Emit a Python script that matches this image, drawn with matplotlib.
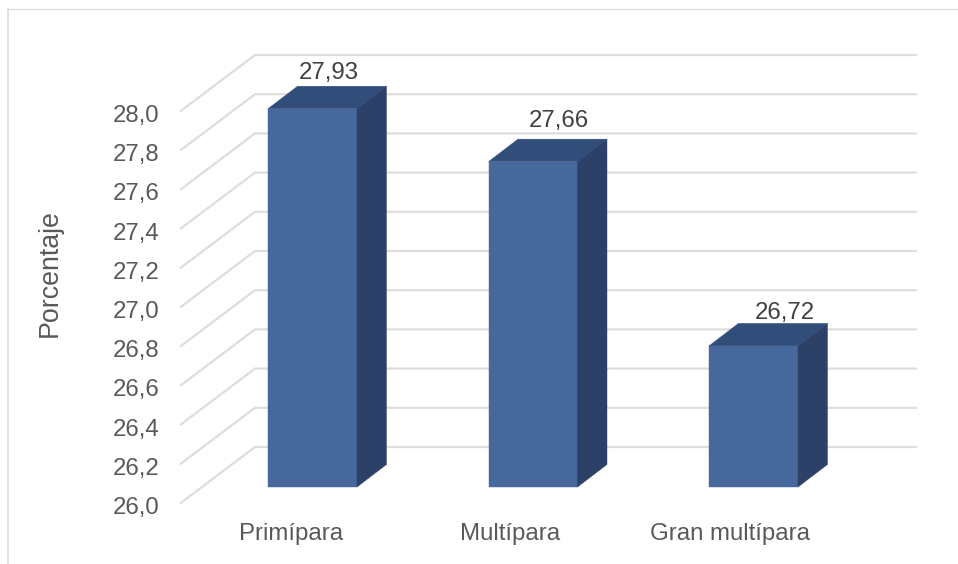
import matplotlib
matplotlib.use("Agg")
import matplotlib.pyplot as plt
from matplotlib.patches import Polygon

plt.rcParams['font.family'] = ['Liberation Sans', 'DejaVu Sans']

categories = ["Primípara", "Multípara", "Gran multípara"]
values = [27.93, 27.66, 26.72]
value_labels = ["27,93", "27,66", "26,72"]
tick_values = [26.0, 26.2, 26.4, 26.6, 26.8, 27.0, 27.2, 27.4, 27.6, 27.8, 28.0]
tick_labels = ["26,0", "26,2", "26,4", "26,6", "26,8", "27,0", "27,2", "27,4", "27,6", "27,8", "28,0"]

W, H = 958, 564
PX_Y = 196.0      # pixels per unit of value
PX_X = 220.5      # pixels per category
X0, Y0 = 312.5, 487.0   # pixel position of category 0, value 26
BAR_W = 89 / PX_X
FLOOR = 26.0
FONT = 17.3

fig = plt.figure(figsize=(W / 100, H / 100), dpi=100, facecolor="white")
ax = fig.add_axes([0, 0, 1, 1])
ax.set_xlim(-X0 / PX_X, (W - X0) / PX_X)
ybot = FLOOR - (H - Y0) / PX_Y
ax.set_ylim(ybot, ybot + H / PX_Y)
ax.axis("off")

GRID = "#DDDDDD"
# outer chart frame, in inches on the figure
frame_tf = fig.dpi_scale_trans
ax.plot([0.08, 0.08], [0, (H - 8.5) / 100], color=GRID, lw=1.3,
        transform=frame_tf, clip_on=False, zorder=1)
ax.plot([0.08, W / 100], [(H - 8.5) / 100, (H - 8.5) / 100], color=GRID, lw=1.0,
        transform=frame_tf, clip_on=False, zorder=1)

# back wall gridlines, side wall diagonals, value tick labels
xb = (255 - X0) / PX_X
xe = (917 - X0) / PX_X
xf = (180 - X0) / PX_X
back_lift = 40 / PX_Y
front_drop = 16.5 / PX_Y
for v, lab in zip(tick_values, tick_labels):
    ax.plot([xf, xb, xe], [v - front_drop, v + back_lift, v + back_lift], color=GRID,
            lw=1.6, zorder=2, solid_joinstyle="miter", solid_capstyle="butt")
    ax.text((159.5 - X0) / PX_X, v - 21 / PX_Y, lab, ha="right", va="center",
            fontsize=FONT, color="#595959")

DX, DY = 29.5 / PX_X, 22.5 / PX_Y
FRONT, TOP, SIDE = "#46689C", "#314E7A", "#2C4068"
label_nudges = [16, 26, 31.5]
label_lifts = [13, 18, 10.5]
cat_nudges = [-21.5, -23, -23]
for i, (cat, val, vlab) in enumerate(zip(categories, values, value_labels)):
    l, r = i - BAR_W / 2, i + BAR_W / 2
    ax.add_patch(Polygon([(l, FLOOR), (r, FLOOR), (r, val), (l, val)], closed=True,
                         facecolor=FRONT, edgecolor=FRONT, lw=0.3, zorder=5))
    ax.add_patch(Polygon([(l, val), (r, val), (r + DX, val + DY), (l + DX, val + DY)],
                         closed=True, facecolor=TOP, edgecolor=TOP, lw=0.3, zorder=5))
    ax.add_patch(Polygon([(r, FLOOR), (r + DX, FLOOR + DY), (r + DX, val + DY), (r, val)],
                         closed=True, facecolor=SIDE, edgecolor=SIDE, lw=0.3, zorder=5))
    ax.text(i + label_nudges[i] / PX_X, val + DY + label_lifts[i] / PX_Y, vlab,
            ha="center", va="center", fontsize=FONT, color="#404040", zorder=6)
    ax.text(i + cat_nudges[i] / PX_X, FLOOR - 47 / PX_Y, cat, ha="center", va="center",
            fontsize=FONT, color="#595959")

ax.text((49.5 - X0) / PX_X, FLOOR + (Y0 - 273.5) / PX_Y, "Porcentaje", rotation=90,
        ha="center", va="center", fontsize=19.3, color="#595959")

fig.savefig("out.png", dpi=100, facecolor="white")
